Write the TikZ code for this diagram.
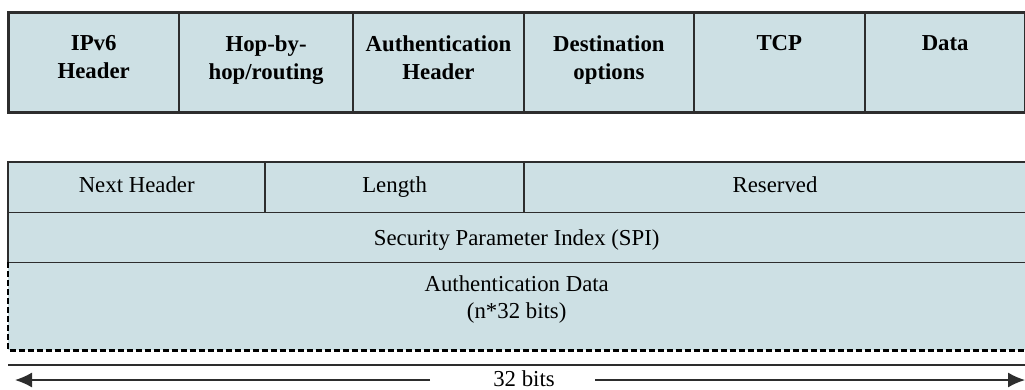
\documentclass[tikz,border=0pt]{standalone}
\usepackage{fontspec}
\setmainfont{Liberation Serif}
\usepackage{xcolor}
\usetikzlibrary{arrows.meta,positioning}

\definecolor{cellfill}{RGB}{205,224,228}
\definecolor{edge}{RGB}{45,45,45}

\begin{document}
\begin{tikzpicture}[
    x=1pt, y=-1pt,
    field/.style={
        rectangle, fill=cellfill, inner sep=0pt, anchor=north west,
        minimum width=#1, minimum height=100pt
    },
    hfield/.style={
        rectangle, fill=cellfill, inner sep=0pt, anchor=north west,
        minimum width=#1
    },
    hdrtxt/.style={
        anchor=north, inner sep=0pt, align=center,
        font=\fontsize{22.8}{28}\selectfont\bfseries
    },
    fldtxt/.style={
        anchor=base, inner sep=0pt, align=center,
        font=\fontsize{22.8}{27}\selectfont
    },
    sep/.style={draw=edge, line width=2pt},
    thin/.style={draw=edge, line width=1.5pt},
    arr/.style={-{Latex[length=17pt, width=15pt]}, line width=1.4pt, edge},
]
\useasboundingbox (0,0) rectangle (1025,389);

% Packet: header chain
\node[field=171pt] (ipv6) at (8,12) {};
\node[field=173pt, right=0pt of ipv6] (hop) {};
\node[field=171pt, right=0pt of hop] (ah) {};
\node[field=169pt, right=0pt of ah] (dest) {};
\node[field=171pt, right=0pt of dest] (tcp) {};
\node[field=160pt, right=0pt of tcp] (data) {};

\foreach \c in {ipv6,hop,ah,dest,tcp}
    \draw[sep] (\c.north east) -- (\c.south east);
\draw[edge, line width=3pt] (ipv6.north west) rectangle (data.south east);

\node[hdrtxt] (ipv6t) at ([yshift=-23pt]ipv6.north) {IPv6\\Header};
\node[hdrtxt] (hopt) at ([yshift=-23pt]hop.north) {Hop-by-\\hop/routing};
\node[hdrtxt] (aht) at ([yshift=-23pt]ah.north) {Authentication\\Header};
\node[hdrtxt] (destt) at ([yshift=-23pt]dest.north) {Destination\\options};
\node[hdrtxt] (tcpt) at ([yshift=-23pt]tcp.north) {TCP};
\node[hdrtxt] (datat) at ([yshift=-23pt]data.north) {Data};

% Authentication header layout
\node[hfield=257pt, minimum height=50pt] (nexthdr) at (8,162) {};
\node[hfield=258pt, minimum height=50pt, right=0pt of nexthdr] (len) {};
\node[hfield=502pt, minimum height=50pt, right=0pt of len] (resv) {};
\node[hfield=1017pt, minimum height=50pt] (spi) at (8,212) {};
\node[hfield=1017pt, minimum height=88pt] (auth) at (8,262) {};

\node[fldtxt] (nexthdrt) at ([yshift=-5pt]nexthdr.center) {Next Header};
\node[fldtxt] (lent) at ([yshift=-5pt]len.center) {Length};
\node[fldtxt] (resvt) at ([yshift=-5pt]resv.center) {Reserved};
\node[fldtxt] (spit) at ([yshift=-8pt]spi.center) {Security Parameter Index (SPI)};
\node[fldtxt, anchor=north] (autht) at ([yshift=-13pt]auth.north) {Authentication Data\\(n*32 bits)};

\draw[thin] (nexthdr.south west) -- (resv.south east);
\draw[thin] (spi.south west) -- (spi.south east);
\draw[sep] (nexthdr.north east) -- (nexthdr.south east);
\draw[sep] (len.north east) -- (len.south east);
\draw[edge, line width=2.5pt] (spi.south west) -- (nexthdr.north west) -- (resv.north east);
\draw[black, line width=2.5pt, dash pattern=on 6pt off 3pt] (auth.north west) -- (auth.south west) -- (auth.south east);

% Width marker
\coordinate (rulel) at (8,365);
\coordinate (ruler) at (1025,365);
\draw[edge, line width=2pt] (rulel) -- (ruler);

\node[fldtxt] (width) at (524,386) {32 bits};
\coordinate (gapl) at (430,380);
\coordinate (gapr) at (595,380);
\coordinate (tipl) at (15,380);
\coordinate (tipr) at (1025,380);
\draw[arr] (gapl) -- (tipl);
\draw[arr] (gapr) -- (tipr);
\end{tikzpicture}
\end{document}
